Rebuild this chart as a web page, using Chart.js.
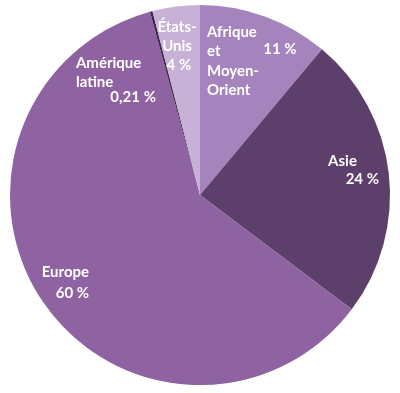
<!DOCTYPE html>
<html>
<head>
<meta charset="utf-8">
<script src="https://cdn.jsdelivr.net/npm/chart.js@4"></script>
<style>
  html, body { margin: 0; padding: 0; background: #fff; }
  #wrap { width: 400px; height: 393px; }
</style>
</head>
<body>
<div id="wrap"><canvas id="pie"></canvas></div>
<script>
// data
const categories = ['Afrique et Moyen-Orient', 'Asie', 'Europe', 'Amérique latine', 'États-Unis'];
const shares = [11, 24, 60, 0.21, 4];
const valueLabels = ['11 %', '24 %', '60 %', '0,21 %', '4 %'];
const nameLines = [['Afrique', 'et', 'Moyen-', 'Orient'], ['Asie'], ['Europe'], ['Amérique', 'latine'], ['États-', 'Unis']];

const sliceColors = ['#a584bd', '#5d3f6b', '#8f62a2', '#3a2748', '#c7b1d7'];

// where each label sits, as fractions of the radius from the centre
const labelPlace = [
  { name: [0.037, -0.858, 'left'], value: [0.421, -0.768, 'center'] },
  { name: [0.674, -0.179, 'left'], value: [0.942, -0.084, 'right'] },
  { name: [-0.584, 0.405, 'right'], value: [-0.584, 0.516, 'right'] },
  { name: [-0.653, -0.695, 'left'], value: [-0.232, -0.516, 'right'] },
  { name: [-0.121, -0.884, 'center'], value: [-0.111, -0.682, 'center'] }
];
const lineH = 19.5;

const sliceLabels = {
  id: 'sliceLabels',
  afterDatasetsDraw(chart) {
    const meta = chart.getDatasetMeta(0);
    const arc = meta.data[0];
    const cx = arc.x, cy = arc.y, r = arc.outerRadius;
    const ctx = chart.ctx;
    ctx.save();
    ctx.fillStyle = '#ffffff';
    ctx.font = 'bold 15px Lato, "Open Sans", sans-serif';
    ctx.textBaseline = 'middle';
    labelPlace.forEach((p, i) => {
      ctx.textAlign = p.name[2];
      nameLines[i].forEach((line, k) => {
        ctx.fillText(line, cx + p.name[0] * r, cy + p.name[1] * r + k * lineH);
      });
      ctx.textAlign = p.value[2];
      ctx.fillText(valueLabels[i], cx + p.value[0] * r, cy + p.value[1] * r);
    });
    ctx.restore();
  }
};

new Chart(document.getElementById('pie'), {
  type: 'pie',
  data: {
    labels: categories,
    datasets: [{
      data: shares,
      backgroundColor: sliceColors,
      borderWidth: 0
    }]
  },
  options: {
    responsive: true,
    maintainAspectRatio: false,
    animation: false,
    layout: { padding: { top: 5, bottom: 8, left: 10, right: 10 } },
    plugins: {
      legend: { display: false },
      tooltip: { enabled: false }
    }
  },
  plugins: [sliceLabels]
});
</script>
</body>
</html>
